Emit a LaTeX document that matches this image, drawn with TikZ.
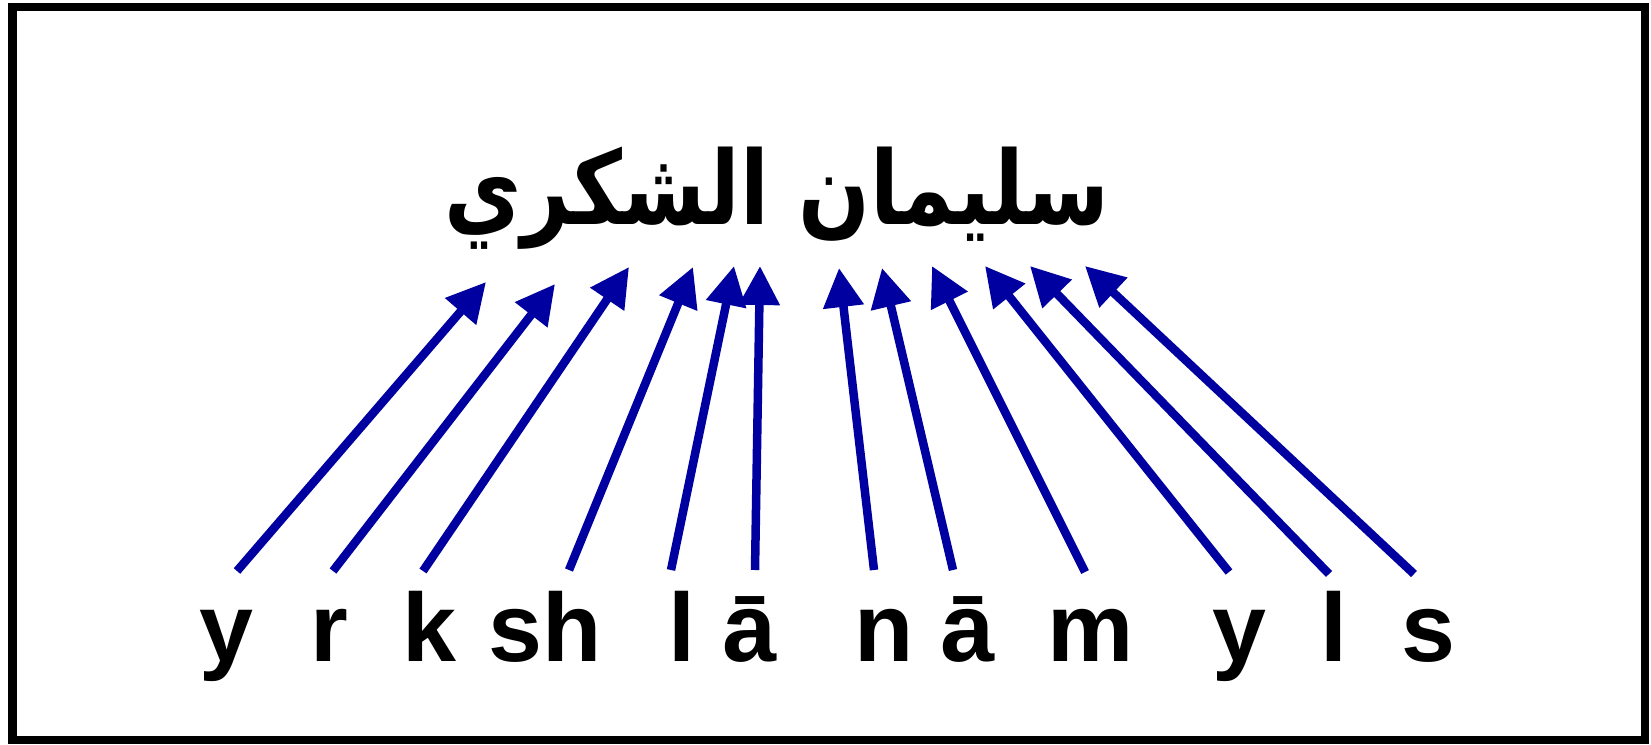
\documentclass[tikz,border=0pt]{standalone}
\usepackage{fontspec}
\setmainfont{Liberation Sans}
\newfontfamily\latb{Liberation Sans Bold}
\newfontfamily\arabicfont[Script=Arabic]{DejaVu Sans}
\TeXXeTstate=1
\usetikzlibrary{arrows.meta}
\definecolor{arrowblue}{RGB}{0,0,160}
\tikzset{
  lat/.style={anchor=base, inner sep=0pt, font=\latb\fontsize{97}{100}\selectfont},
  link/.style={draw=arrowblue, line width=8.5pt, -{Triangle[length=39pt,width=39pt]}},
}
\begin{document}
\begin{tikzpicture}[x=1pt,y=-1pt]
\useasboundingbox (0,0) rectangle (1651,744);
\draw[line width=8.5pt] (12.5,7) rectangle (1645,740);
\node[anchor=base, inner sep=0pt] (ar) at (777,224) {\scalebox{0.825}[1]{\fontsize{102}{110}\selectfont\arabicfont\bfseries\beginR سليمان الشكري\endR}};
% transliteration letters
\node[lat] (t1) at (226,661) {y};
\node[lat] (t2) at (329,661) {r};
\node[lat] (t3) at (429,661) {k};
\node[lat] (t4) at (545,661) {sh};
\node[lat] (t5) at (682,661) {l};
\node[lat] (t6) at (749,661) {ā};
\node[lat] (t7) at (884,661) {n};
\node[lat] (t8) at (967,661) {ā};
\node[lat] (t9) at (1091,661) {m};
\node[lat] (t10) at (1239,661) {y};
\node[lat] (t11) at (1334,661) {l};
\node[lat] (t12) at (1428,661) {s};
% arrow ends
\coordinate (a1) at (237,571);  \coordinate (b1) at (486,282);
\coordinate (a2) at (333,571);  \coordinate (b2) at (555,284);
\coordinate (a3) at (423,571);  \coordinate (b3) at (629,267);
\coordinate (a4) at (569,570);  \coordinate (b4) at (693,267);
\coordinate (a5) at (671,570);  \coordinate (b5) at (734,266);
\coordinate (a6) at (755,570);  \coordinate (b6) at (760,266);
\coordinate (a7) at (874,570);  \coordinate (b7) at (839,268);
\coordinate (a8) at (953,570);  \coordinate (b8) at (882,268);
\coordinate (a9) at (1085,572); \coordinate (b9) at (932,266);
\coordinate (a10) at (1229,572); \coordinate (b10) at (985,266);
\coordinate (a11) at (1329,574); \coordinate (b11) at (1030,266);
\coordinate (a12) at (1414,574); \coordinate (b12) at (1085,266);
\foreach \i in {1,...,12} {\draw[link] (a\i) -- (b\i);}
\end{tikzpicture}
\end{document}
